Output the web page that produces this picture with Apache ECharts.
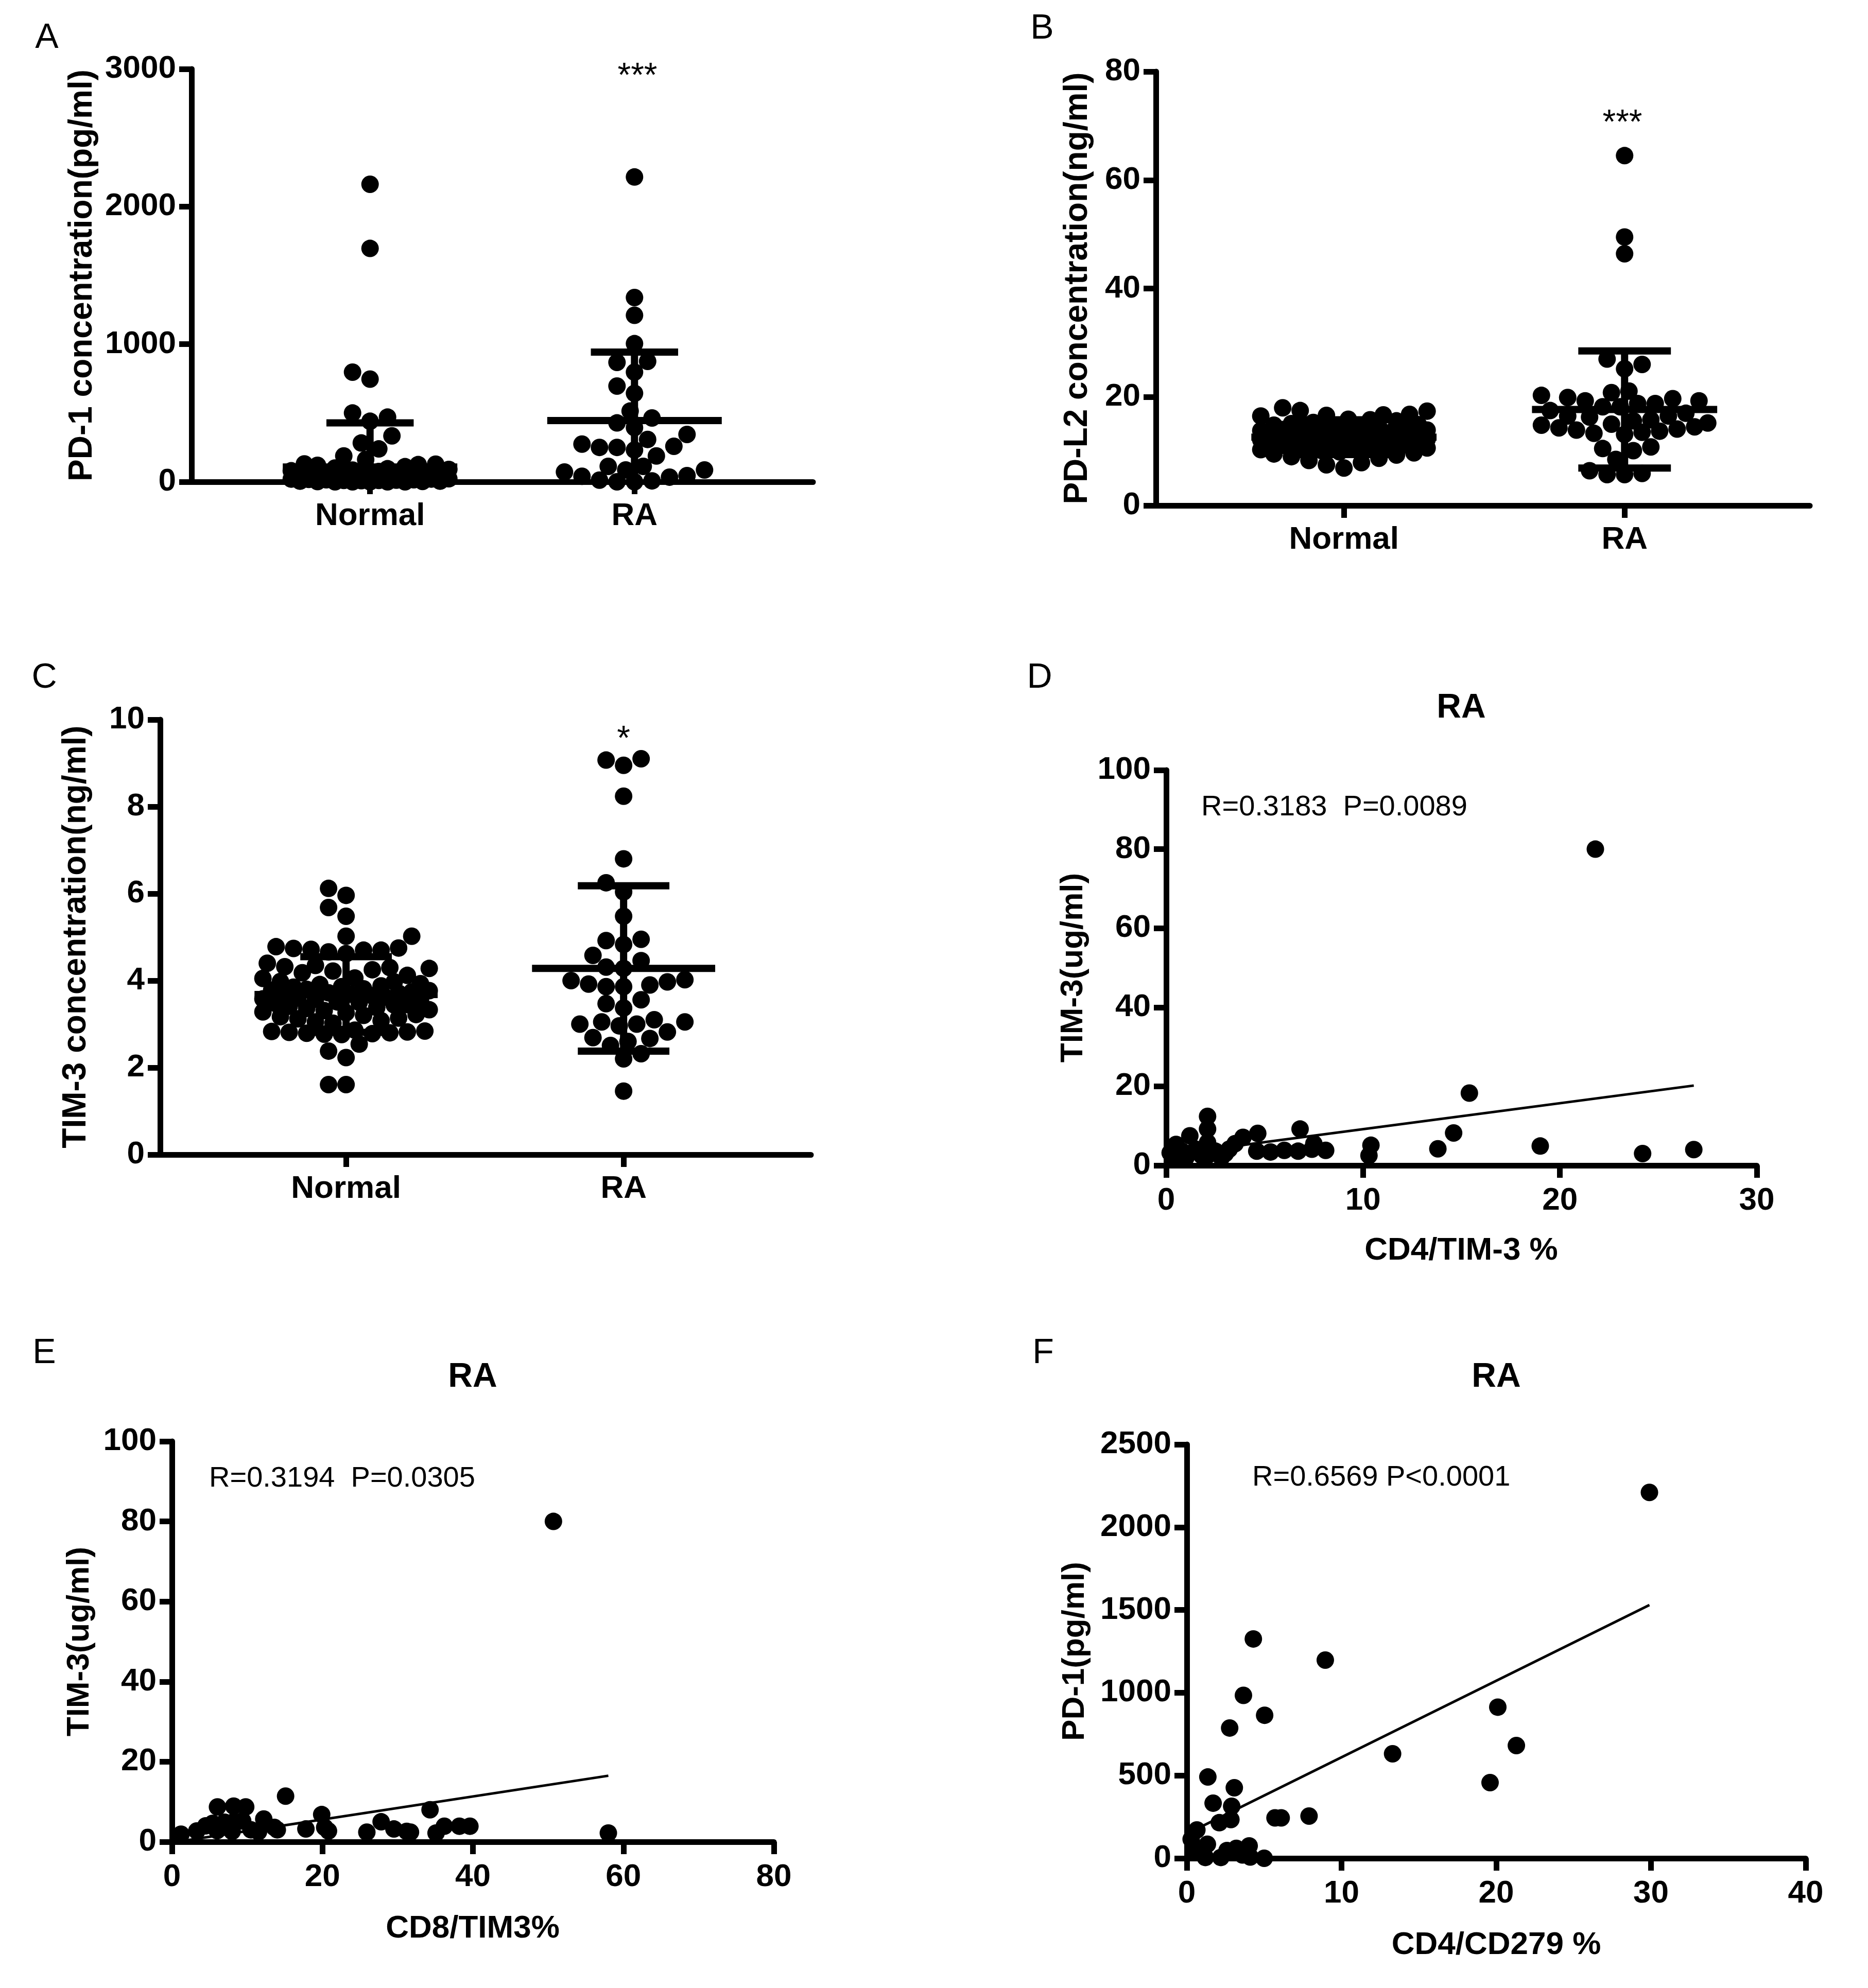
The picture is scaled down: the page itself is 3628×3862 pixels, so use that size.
<!DOCTYPE html>
<html>
<head>
<meta charset="utf-8">
<script src="https://cdn.jsdelivr.net/npm/echarts@6/dist/echarts.min.js"></script>
<style>
html,body{margin:0;padding:0;background:#fff;}
#chart{width:3628px;height:3862px;}
</style>
</head>
<body>
<div id="chart"></div>
<script>
// ---------------- DATA ----------------
const groups = ['Normal', 'RA'];

// Panel A: PD-1 concentration (pg/ml)
const pd1Normal = [2162, 1696, 797, 746, 500, 470, 440, 334, 282, 239, 188, 162, 130, 128, 125, 120,
  110, 100, 95, 90, 85, 80, 75, 70, 65, 62, 60, 55, 50, 48, 45, 42, 40, 38, 35, 33, 30, 30, 28, 25,
  25, 22, 20, 20, 18, 15, 15, 12, 10, 10, 8, 5, 5, 3, 2, 0, 0, 0, 0, 0];
const pd1RA = [2215, 1339, 1210, 1004, 875, 868, 797, 696, 643, 514, 464, 428, 394, 344, 308, 274,
  250, 231, 258, 250, 188, 112, 112, 86, 71, 86, 34, 0, 7, 12, 0, 40, 45];
const pd1Mean = [108, 445];
const pd1SD = [320, 498];

// Panel B: PD-L2 concentration (ng/ml)
const pdl2Normal = [18.0, 17.5, 17.4, 16.8, 16.7, 16.5, 16.6, 15.9, 15.6, 15.8, 15.3, 15.1, 14.9, 14.7,
  14.8, 14.5, 14.4, 14.2, 14.3, 14.0, 13.9, 13.8, 13.6, 13.7, 13.5, 13.3, 13.4, 13.2, 13.0, 13.1, 12.9,
  12.8, 12.7, 12.6, 12.5, 12.6, 12.4, 12.3, 12.2, 12.1, 12.2, 12.0, 11.9, 11.8, 11.7, 11.8, 11.6, 11.5,
  11.4, 11.3, 11.5, 11.2, 11.1, 11.0, 10.9, 10.8, 10.6, 10.5, 10.3, 10.1, 9.9, 9.7, 9.5, 9.3, 9.0, 8.7,
  8.3, 7.9, 7.5, 6.9];
const pdl2RA = [64.5, 49.5, 46.4, 27.0, 26.0, 25.2,
  21.1, 20.3, 19.7, 19.3, 18.8, 18.2, 17.0, 16.5, 17.5, 18.2, 18.8, 19.3, 19.9, 20.8,
  16.5, 15.8, 15.2, 14.8, 14.3, 13.9, 13.5, 13.1, 13.3, 13.7, 14.1, 14.5, 15.0, 15.6, 16.3,
  10.5, 8.5, 10.1, 10.8, 5.9, 5.7, 5.7, 6.4];
const pdl2Mean = [12.6, 17.7];
const pdl2SD = [3.2, 10.8];

// Panel C: TIM-3 concentration (ng/ml)
const tim3Normal = [6.12, 5.96, 5.68, 5.48, 5.02, 5.02, 4.78, 4.74, 4.70, 4.70, 4.66, 4.72, 4.62, 4.75,
  4.40, 4.35, 4.32, 4.30, 4.28, 4.25, 4.22, 4.18,
  4.12, 4.06, 4.05, 3.98, 3.97, 3.93, 3.91, 3.88, 3.86, 3.85, 3.81, 3.80, 3.78, 3.77, 3.74, 3.72, 3.71,
  3.69, 3.66, 3.65, 3.62, 3.60, 3.58, 3.57, 3.55, 3.51, 3.50, 3.47, 3.45, 3.44, 3.41, 3.38, 3.36, 3.33,
  3.31, 3.28, 3.26, 3.22, 3.20, 3.17, 3.14, 3.12, 3.08, 3.05, 3.02,
  2.80, 2.82, 2.78, 2.79, 2.84, 2.77, 2.81, 2.86, 2.76, 2.83,
  2.54, 2.38, 2.23, 1.61, 1.61];
const tim3RA = [9.10, 9.07, 8.95, 8.24, 6.80, 6.25, 6.04, 5.48, 4.95, 4.92, 4.83, 4.58, 4.46, 4.31, 4.28,
  4.00, 3.97, 3.90, 3.86, 3.86, 3.92, 4.02, 3.56, 3.47, 3.37, 3.05, 3.00, 2.96, 3.00, 3.05, 3.10,
  2.82, 2.69, 2.67, 2.60, 2.51, 2.32, 2.20, 1.46];
const tim3Mean = [3.68, 4.28];
const tim3SD = [0.87, 1.9];

// Panel D: CD4/TIM-3 % vs TIM-3 (ug/ml)
const dX = [0.2, 0.5, 0.8, 1.2, 1.5, 1.0, 2.1, 2.1, 2.1, 2.1, 2.5, 2.8, 3.2, 3.5, 3.9, 3.0, 4.65, 4.6,
  5.3, 6.0, 6.7, 6.8, 7.4, 7.5, 8.1, 10.4, 10.3, 13.8, 14.6, 15.4, 19.0, 21.8, 24.2, 26.8, 1.8, 0.4];
const dY = [3.2, 5.3, 3.6, 7.5, 4.1, 2.0, 12.4, 9.2, 5.8, 2.5, 3.6, 2.0, 4.1, 5.5, 7.1, 3.0, 8.1, 3.6,
  3.4, 3.8, 3.6, 9.2, 4.1, 5.5, 3.8, 5.1, 2.5, 4.2, 8.2, 18.3, 4.9, 80, 3.0, 4.0, 2.5, 1.5];
const dFit = [[0.2, 2.74], [26.8, 20.2]];

// Panel E: CD8/TIM3% vs TIM-3 (ug/ml)
const eX = [50.7, 58.0, 15.1, 6.05, 8.2, 9.8, 34.3, 19.9, 12.2, 27.8, 25.9, 36.2, 38.2, 39.6, 35.1,
  29.5, 31.2, 31.7, 17.8, 20.8, 20.3, 1.2, 3.3, 4.5, 5.4, 7.0, 8.2, 9.4, 13.6, 6.0, 8.0, 10.5, 11.5, 14.0];
const eY = [80, 2.2, 11.4, 8.7, 8.9, 8.7, 8.0, 6.8, 5.7, 5.0, 2.4, 3.9, 3.9, 3.9, 2.2,
  3.2, 2.6, 2.4, 3.2, 2.7, 3.6, 1.9, 2.7, 4.0, 4.6, 4.9, 5.0, 5.2, 3.6, 2.8, 2.6, 3.0, 2.5, 3.0];
const eFit = [[1.2, 0.15], [58.0, 16.5]];

// Panel F: CD4/CD279 % vs PD-1 (pg/ml)
const fX = [29.9, 4.3, 8.95, 3.66, 5.03, 2.77, 20.1, 21.3, 13.3, 19.6, 1.36, 3.07, 1.7, 2.9, 2.1, 2.85,
  5.7, 6.1, 7.9, 0.65, 1.33, 0.28, 4.03, 2.6, 3.2, 1.2, 2.2, 4.1, 5.0, 0.5, 3.6];
const fY = [2210, 1325, 1197, 984, 864, 787, 913, 681, 631, 457, 491, 426, 333, 314, 215, 234,
  244, 244, 255, 171, 85, 115, 75, 47, 60, 5, 5, 8, 0, 60, 20];
const fFit = [[0.28, 161], [29.9, 1530]];

// ---------------- LAYOUT / STYLE ----------------
const FONT = '"Liberation Sans", Arial, Helvetica, sans-serif';
const AXW = 11;
const DOT = 34;
const grids = [
  {left: 372, top: 134, width: 1207, height: 802},   // A
  {left: 2245, top: 139, width: 1270, height: 843},  // B
  {left: 311, top: 1398, width: 1264, height: 845},  // C
  {left: 2265, top: 1496, width: 1147, height: 768}, // D
  {left: 334, top: 2800, width: 1169, height: 778},  // E
  {left: 2305, top: 2806, width: 1202, height: 804}  // F
];
const xr = [[0.325, 2.675], [0.33, 2.66], [0.33, 2.675], [0, 30], [0, 80], [0, 40]];
const yr = [[0, 3000, 1000], [0, 80, 20], [0, 10, 2], [0, 100, 20], [0, 100, 20], [0, 2500, 500]];

function pxX(g) { return grids[g].width / (xr[g][1] - xr[g][0]); }
function pxY(g) { return grids[g].height / (yr[g][1] - yr[g][0]); }

// beeswarm layout of one column (positions computed, not data)
function swarm(vals, center, g) {
  const sx = pxX(g), sy = pxY(g);
  const maxHalf = 0.3 * sx;
  const step = DOT * 0.25;
  const nSteps = Math.floor(maxHalf / step);
  const idx = vals.map((v, i) => i).sort((a, b) => vals[a] - vals[b]);
  const placed = [];
  const out = new Array(vals.length);
  idx.forEach((i, n) => {
    const py = vals[i] * sy;
    const near = placed.filter(p => Math.abs(p.py - py) < DOT);
    let chosen = null, best = -1, bestX = 0;
    const sgn = n % 2 ? -1 : 1;
    for (let k = 0; k <= nSteps && chosen === null; k++) {
      const cands = k === 0 ? [0] : [sgn * k * step, -sgn * k * step];
      for (const cx of cands) {
        let md = Infinity;
        for (const p of near) {
          const d = Math.hypot(p.px - cx, p.py - py);
          if (d < md) md = d;
        }
        if (md >= DOT * 0.95) { chosen = cx; break; }
        if (md > best) { best = md; bestX = cx; }
      }
    }
    if (chosen === null) chosen = bestX;
    placed.push({px: chosen, py: py});
    out[i] = [center + chosen / sx, vals[i]];
  });
  return out;
}

function yAxis(g) {
  return {
    type: 'value', gridIndex: g, min: yr[g][0], max: yr[g][1], interval: yr[g][2],
    axisLine: {show: true, onZero: false, lineStyle: {color: '#000', width: AXW}},
    axisTick: {show: true, length: 24, lineStyle: {color: '#000', width: AXW}},
    axisLabel: {color: '#000', fontSize: 62, fontWeight: 'bold', fontFamily: FONT, margin: 30,
      formatter: v => String(v)},
    splitLine: {show: false}
  };
}
function xAxisCat(g) {
  return {
    type: 'value', gridIndex: g, min: xr[g][0], max: xr[g][1],
    axisLine: {show: true, onZero: false, lineStyle: {color: '#000', width: AXW}},
    axisTick: {show: true, length: 24, customValues: [1, 2], lineStyle: {color: '#000', width: AXW}},
    axisLabel: {color: '#000', fontSize: 62, fontWeight: 'bold', fontFamily: FONT, margin: 36,
      customValues: [1, 2], formatter: v => groups[Math.round(v) - 1]},
    splitLine: {show: false}
  };
}
function xAxisVal(g, interval) {
  return {
    type: 'value', gridIndex: g, min: xr[g][0], max: xr[g][1], interval: interval,
    axisLine: {show: true, onZero: false, lineStyle: {color: '#000', width: AXW}},
    axisTick: {show: true, length: 24, lineStyle: {color: '#000', width: AXW}},
    axisLabel: {color: '#000', fontSize: 62, fontWeight: 'bold', fontFamily: FONT, margin: 38,
      formatter: v => String(v)},
    splitLine: {show: false}
  };
}

function dots(g, data) {
  return {type: 'scatter', xAxisIndex: g, yAxisIndex: g, data: data, symbol: 'circle',
    symbolSize: DOT, itemStyle: {color: '#000', opacity: 1, borderWidth: 0}, clip: false, z: 3, silent: true};
}
function errBars(g, means, sds) {
  const data = means.map((m, i) => [i + 1, m, sds[i]]);
  return {
    type: 'custom', xAxisIndex: g, yAxisIndex: g, data: data, z: 4, silent: true,
    encode: {x: 0, y: 1},
    renderItem: function (params, api) {
      const x = api.value(0), m = api.value(1), s = api.value(2);
      const lo = Math.max(m - s, 0);
      const c = api.coord([x, m]);
      const t = api.coord([x, m + s]);
      const b = api.coord([x, lo]);
      const halfMean = api.size([0.33, 0])[0];
      const halfCap = api.size([0.165, 0])[0];
      const st = {stroke: '#000', lineWidth: 14, lineCap: 'butt'};
      const ch = [
        {type: 'line', shape: {x1: c[0] - halfMean, y1: c[1], x2: c[0] + halfMean, y2: c[1]}, style: st},
        {type: 'line', shape: {x1: c[0], y1: t[1], x2: c[0], y2: b[1]}, style: st},
        {type: 'line', shape: {x1: c[0] - halfCap, y1: t[1], x2: c[0] + halfCap, y2: t[1]}, style: st}
      ];
      if (m - s > 0) {
        ch.push({type: 'line', shape: {x1: c[0] - halfCap, y1: b[1], x2: c[0] + halfCap, y2: b[1]}, style: st});
      }
      return {type: 'group', children: ch};
    }
  };
}
function fitLine(g, pts) {
  return {type: 'line', xAxisIndex: g, yAxisIndex: g, data: pts, showSymbol: false, symbol: 'none',
    lineStyle: {color: '#000', width: 5, opacity: 1}, z: 2, silent: true};
}
function pairs(xs, ys) { return xs.map((x, i) => [x, ys[i]]); }

function txt(x, y, text, size, bold, rot, align) {
  return {type: 'text', x: x, y: y, rotation: rot || 0, silent: true,
    style: {text: text, font: (bold ? 'bold ' : '') + size + 'px ' + FONT, fill: '#000',
      align: align || 'center', verticalAlign: 'middle'}};
}
const R90 = Math.PI / 2;
const texts = [
  txt(91, 74, 'A', 68, false), txt(2024, 56, 'B', 68, false), txt(86, 1317, 'C', 68, false),
  txt(2019, 1317, 'D', 68, false), txt(86, 2629, 'E', 68, false), txt(2026, 2629, 'F', 68, false),
  txt(160, 535, 'PD-1 concentration(pg/ml)', 64, true, R90),
  txt(2093, 560, 'PD-L2 concentration(ng/ml)', 64, true, R90),
  txt(148, 1820, 'TIM-3 concentration(ng/ml)', 64, true, R90),
  txt(2085, 1880, 'TIM-3(ug/ml)', 62, true, R90),
  txt(155, 3189, 'TIM-3(ug/ml)', 62, true, R90),
  txt(2088, 3208, 'PD-1(pg/ml)', 62, true, R90),
  txt(1238, 150, '***', 66, false), txt(3151, 241, '***', 66, false), txt(1211, 1438, '*', 66, false),
  txt(2838, 1376, 'RA', 66, true), txt(918, 2676, 'RA', 66, true), txt(2906, 2676, 'RA', 66, true),
  txt(2838, 2430, 'CD4/TIM-3 %', 62, true), txt(918, 3747, 'CD8/TIM3%', 62, true),
  txt(2906, 3779, 'CD4/CD279 %', 62, true),
  txt(2333, 1569, 'R=0.3183  P=0.0089', 56, false, 0, 'left'),
  txt(406, 2873, 'R=0.3194  P=0.0305', 56, false, 0, 'left'),
  txt(2432, 2871, 'R=0.6569 P<0.0001', 56, false, 0, 'left')
];

const option = {
  animation: false,
  backgroundColor: '#fff',
  grid: grids.map(g => Object.assign({containLabel: false}, g)),
  xAxis: [xAxisCat(0), xAxisCat(1), xAxisCat(2), xAxisVal(3, 10), xAxisVal(4, 20), xAxisVal(5, 10)],
  yAxis: [yAxis(0), yAxis(1), yAxis(2), yAxis(3), yAxis(4), yAxis(5)],
  series: [
    dots(0, swarm(pd1Normal, 1, 0)), dots(0, swarm(pd1RA, 2, 0)), errBars(0, pd1Mean, pd1SD),
    dots(1, swarm(pdl2Normal, 1, 1)), dots(1, swarm(pdl2RA, 2, 1)), errBars(1, pdl2Mean, pdl2SD),
    dots(2, swarm(tim3Normal, 1, 2)), dots(2, swarm(tim3RA, 2, 2)), errBars(2, tim3Mean, tim3SD),
    fitLine(3, dFit), dots(3, pairs(dX, dY)),
    fitLine(4, eFit), dots(4, pairs(eX, eY)),
    fitLine(5, fFit), dots(5, pairs(fX, fY))
  ],
  graphic: texts
};
const chart = echarts.init(document.getElementById('chart'), null, {renderer: 'canvas'});
chart.setOption(option);
</script>
</body>
</html>
